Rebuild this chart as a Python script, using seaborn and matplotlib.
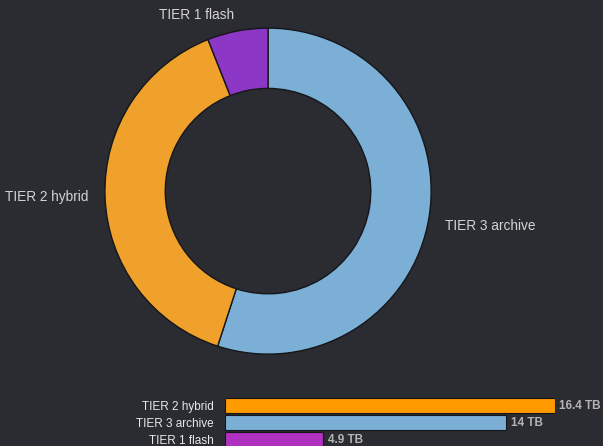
import matplotlib
matplotlib.use("Agg")
import matplotlib.pyplot as plt
import seaborn as sns

# donut shares (read from the ring, percent)
tiers = ["TIER 3 archive", "TIER 2 hybrid", "TIER 1 flash"]
shares = [55, 39, 6]
donut_colors = ["#7bafd6", "#f0a12b", "#8c37c6"]

# capacity bars
bar_tiers = ["TIER 2 hybrid", "TIER 3 archive", "TIER 1 flash"]
capacity_tb = [16.4, 14, 4.9]
bar_labels = ["16.4 TB", "14 TB", "4.9 TB"]
bar_colors = ["#ff9a00", "#7bafd6", "#b030c0"]

bg = "#2a2c31"
sns.set_theme(style="dark")
plt.rcParams["font.family"] = ["Liberation Sans", "DejaVu Sans"]

fig = plt.figure(figsize=(6.03, 4.46), dpi=100, facecolor=bg)

# donut
ax = fig.add_axes([0.174, 0.206, 0.541, 0.731])
ax.set_facecolor(bg)
wedges, texts = ax.pie(shares, labels=tiers, colors=donut_colors, startangle=90,
                       counterclock=False, labeldistance=1.1,
                       wedgeprops=dict(width=0.37, edgecolor="#15161a", linewidth=1),
                       textprops=dict(color="#d4d4d4", fontsize=9.8))
texts[0].set_va("top")
ax.set_xlim(-1.0, 1.0)
ax.set_ylim(-1.0, 1.0)
ax.set_aspect("auto")
ax.axis("off")

# bars
bx = fig.add_axes([0.373, -0.0045, 0.547, 0.114])
bx.set_facecolor(bg)
sns.barplot(x=capacity_tb, y=bar_tiers, hue=bar_tiers, palette=bar_colors,
            orient="h", width=0.88, edgecolor="#15161a", linewidth=0.8,
            saturation=1, legend=False, ax=bx)
bx.set_xlim(0, 16.4)
bx.set_ylim(2.5, -0.5)
for cont, lab in zip(bx.containers, bar_labels):
    bx.bar_label(cont, labels=[lab], padding=3, color="#b4b4b4",
                 fontsize=8.5, fontweight="bold")
bx.set_xticks([])
bx.tick_params(axis="y", length=0, colors="#e8e8e8", labelsize=8.5, pad=8)
bx.set_xlabel("")
bx.set_ylabel("")
for s in bx.spines.values():
    s.set_visible(False)

fig.savefig("out.png", dpi=100, facecolor=bg)
